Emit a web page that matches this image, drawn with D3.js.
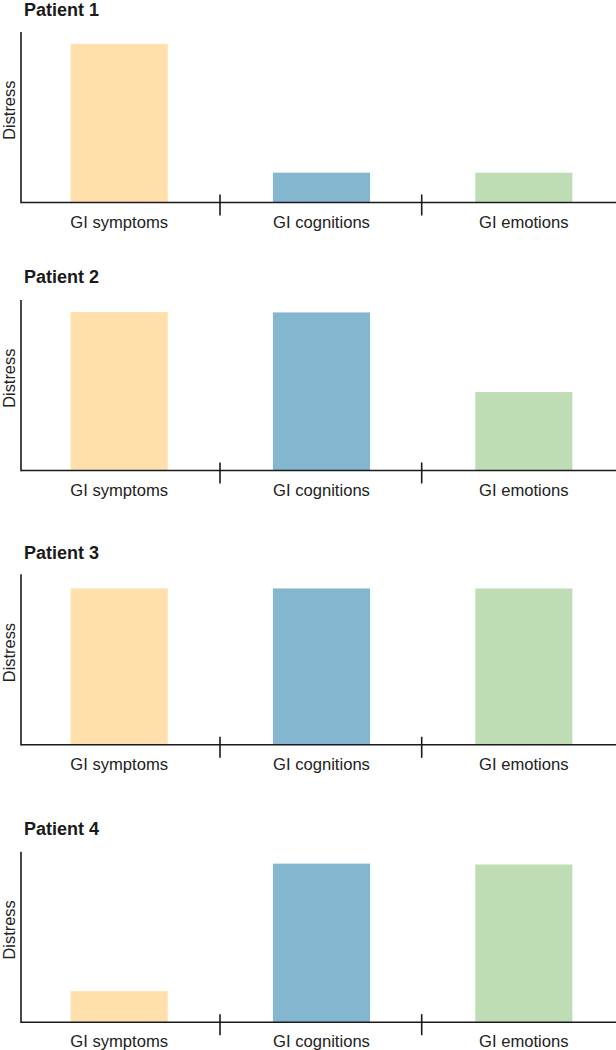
<!DOCTYPE html>
<html>
<head>
<meta charset="utf-8">
<script src="https://cdn.jsdelivr.net/npm/d3@7"></script>
<style>
  html, body { margin: 0; padding: 0; background: #ffffff; }
  svg { display: block; }
</style>
</head>
<body>
<script>
// ---- data ----
const categories = ["GI symptoms", "GI cognitions", "GI emotions"];
const patientNames = ["Patient 1", "Patient 2", "Patient 3", "Patient 4"];
const patient1Values = [93, 17.5, 17.5];
const patient2Values = [93, 92.7, 46];
const patient3Values = [91.7, 91.7, 91.7];
const patient4Values = [18.2, 93, 92.5];
const barColors = ["#FFDFAB", "#84B6CF", "#BFDDB4"];

const seriesByPatient = [patient1Values, patient2Values, patient3Values, patient4Values];

// ---- layout ----
const W = 616, H = 1050;
const axisLeft = 21, axisRight = 622;
const panelTops = [32, 300, 574.3, 851.7];
const panelHeight = 170.5;
const titleOffsets = [16, 17, 15.5, 17];

const svg = d3.select("body").append("svg")
  .attr("width", W).attr("height", H)
  .attr("font-family", "'Liberation Sans', Arial, Helvetica, sans-serif");

// band scale for the tick boundaries
const xOuter = d3.scaleBand().domain(categories).range([18.3, 623.4]).padding(0);
// band scale for the bars
const xBar = d3.scaleBand().domain(categories).range([18, 625])
  .paddingInner(0.52).paddingOuter(0.26);
const color = d3.scaleOrdinal().domain(categories).range(barColors);

patientNames.forEach((name, i) => {
  const top = panelTops[i];
  const base = top + panelHeight;
  const y = d3.scaleLinear().domain([0, 100]).range([base, top]);
  const vals = seriesByPatient[i];
  const g = svg.append("g");

  // title
  g.append("text")
    .attr("x", 24).attr("y", top - titleOffsets[i])
    .attr("font-size", 18).attr("font-weight", "bold")
    .attr("fill", "#1a1a1a")
    .text(name);

  // bars
  g.selectAll("rect.bar").data(categories).enter().append("rect")
    .attr("class", "bar")
    .attr("x", d => xBar(d))
    .attr("width", xBar.bandwidth())
    .attr("y", (d, j) => y(vals[j]))
    .attr("height", (d, j) => y(0) - y(vals[j]))
    .attr("fill", d => color(d));

  // y axis line
  g.append("line")
    .attr("x1", axisLeft).attr("x2", axisLeft)
    .attr("y1", y(100)).attr("y2", y(0) + 0.8)
    .attr("stroke", "#1a1a1a").attr("stroke-width", 1.6);

  // x axis baseline
  g.append("line")
    .attr("x1", axisLeft).attr("x2", axisRight)
    .attr("y1", y(0)).attr("y2", y(0))
    .attr("stroke", "#1a1a1a").attr("stroke-width", 1.6);

  // boundary ticks between categories
  const boundaries = categories.slice(1).map(c => xOuter(c));
  g.selectAll("line.tick").data(boundaries).enter().append("line")
    .attr("class", "tick")
    .attr("x1", d => d).attr("x2", d => d)
    .attr("y1", y(0) - 8).attr("y2", y(0) + 13)
    .attr("stroke", "#1a1a1a").attr("stroke-width", 1.6);

  // category labels
  g.selectAll("text.cat").data(categories).enter().append("text")
    .attr("class", "cat")
    .attr("x", d => xBar(d) + xBar.bandwidth() / 2)
    .attr("y", y(0) + 25)
    .attr("text-anchor", "middle")
    .attr("font-size", 16.6)
    .attr("fill", "#222")
    .text(d => d);

  // y axis title
  g.append("text")
    .attr("transform", `translate(15,${(top + base) / 2 - 7}) rotate(-90)`)
    .attr("text-anchor", "middle")
    .attr("font-size", 16.4)
    .attr("fill", "#222")
    .text("Distress");
});
</script>
</body>
</html>
